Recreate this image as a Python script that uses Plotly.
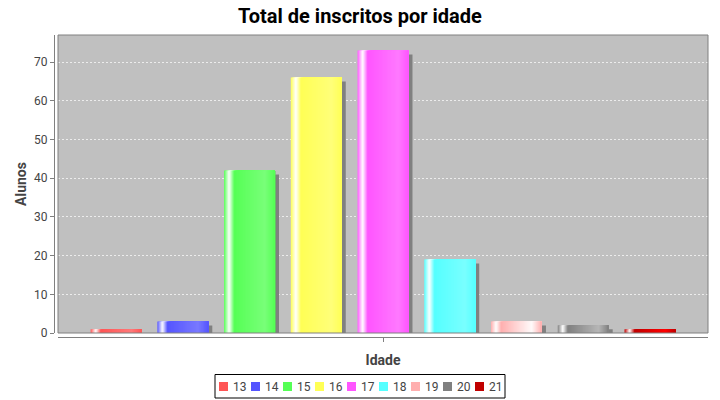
import plotly.graph_objects as go

# ---- data ----
ages = ["13", "14", "15", "16", "17", "18", "19", "20", "21"]
alunos = [1, 3, 42, 66, 73, 19, 3, 2, 1]
colors = ["#FF5555", "#5555FF", "#55FF55", "#FFFF55", "#FF55FF",
          "#55FFFF", "#FFAFAF", "#808080", "#C00000"]
y_ticks = [0, 10, 20, 30, 40, 50, 60, 70]

FONT = "Roboto"
BAR_W = 0.764
N_SLICES = 48
PX_X = 650 / 9.74      # px per x unit
PX_Y = 298 / 77.0      # px per y unit


def hex2rgb(h):
    h = h.lstrip("#")
    return tuple(int(h[i:i + 2], 16) for i in (0, 2, 4))


def brighter(c):
    r, g, b = c
    i = 3
    if r == 0 and g == 0 and b == 0:
        return (i, i, i)
    r = i if 0 < r < i else r
    g = i if 0 < g < i else g
    b = i if 0 < b < i else b
    return (min(int(r / 0.7), 255), min(int(g / 0.7), 255), min(int(b / 0.7), 255))


def mix(a, b, t):
    return tuple(a[k] + (b[k] - a[k]) * t for k in range(3))


def grad(c0, t):
    c1 = brighter(c0)
    white = (255, 255, 255)
    if t < 0.1:
        c = mix(c0, white, t / 0.1)
    elif t < 0.2:
        c = mix(white, c0, (t - 0.1) / 0.1)
    elif t < 0.8:
        c = mix(c0, c1, (t - 0.2) / 0.6)
    else:
        c = mix(c1, c0, (t - 0.8) / 0.2)
    return "rgb(%d,%d,%d)" % tuple(round(v) for v in c)


xs = list(range(len(ages)))
fig = go.Figure()

# shadows
fig.add_trace(go.Bar(
    x=xs, y=alunos, base=[-4 / PX_Y] * len(xs),
    offset=-BAR_W / 2 + 4 / PX_X, width=BAR_W,
    marker=dict(color="#808080", line=dict(width=0)),
    showlegend=False, hoverinfo="skip"))

# gradient bars built from slices
rgbs = [hex2rgb(c) for c in colors]
for j in range(N_SLICES):
    s = j / N_SLICES * BAR_W
    t = (j + 0.5) / N_SLICES
    fig.add_trace(go.Bar(
        x=xs, y=alunos,
        offset=-BAR_W / 2 + s, width=BAR_W - s,
        marker=dict(color=[grad(c, t) for c in rgbs], line=dict(width=0)),
        showlegend=False,
        customdata=ages,
        hovertemplate="Idade %{customdata}: %{y}<extra></extra>"))

# ---- layout geometry ----
L, R, T, B = 54, 12, 35, 63
PW, PH = 720 - L - R, 400 - T - B


def px_x(p):
    return (p - L) / PW


def px_y(p):
    return (400 - B - p) / PH


shapes = [
    dict(type="rect", xref="x domain", yref="y domain", x0=0, x1=1, y0=0, y1=1,
         line=dict(color="#808080", width=1), layer="above"),
]
annotations = []

# manual legend (JFreeChart style)
leg_x0, leg_x1, leg_y0, leg_y1 = 215, 505, 374.5, 398
shapes.append(dict(type="rect", xref="paper", yref="paper",
                   x0=px_x(leg_x0), x1=px_x(leg_x1), y0=px_y(leg_y1), y1=px_y(leg_y0),
                   line=dict(color="black", width=1), fillcolor="white"))
for i, (a, c) in enumerate(zip(ages, colors)):
    sx = 219 + 32 * i
    shapes.append(dict(type="rect", xref="paper", yref="paper",
                       x0=px_x(sx), x1=px_x(sx + 9), y0=px_y(391), y1=px_y(382),
                       line=dict(width=0), fillcolor=c))
    annotations.append(dict(text=a, xref="paper", yref="paper",
                            x=px_x(sx + 12), y=px_y(386.5), xanchor="left", yanchor="middle",
                            showarrow=False, font=dict(family=FONT, size=12, color="#444444")))

fig.update_layout(
    width=720, height=400,
    margin=dict(l=L, r=R, t=T, b=B, autoexpand=False),
    paper_bgcolor="white",
    plot_bgcolor="#C0C0C0",
    barmode="overlay",
    showlegend=False,
    title=dict(text="<b>Total de inscritos por idade</b>", x=0.5, xref="container",
               y=1 - 16 / 400, yref="container", xanchor="center", yanchor="middle",
               font=dict(family=FONT, size=20, color="black")),
    xaxis=dict(domain=[4 / PW, 1], range=[-0.87, 8.87], anchor="free", position=0,
               showgrid=False, zeroline=False,
               showline=True, linecolor="#808080", linewidth=1,
               tickvals=[4], ticktext=[""], ticks="outside", ticklen=4,
               tickcolor="#808080",
               title=dict(text="<b>Idade</b>", standoff=11,
                          font=dict(family=FONT, size=14, color="#444444"))),
    yaxis=dict(domain=[4 / PH, 1], range=[0, 77], anchor="free", position=0,
               tickvals=y_ticks, ticks="outside", ticklen=4, tickcolor="#808080",
               tickfont=dict(family=FONT, size=12, color="#444444"),
               showline=True, linecolor="#808080", linewidth=1,
               showgrid=True, gridcolor="rgba(255,255,255,0.7)", griddash="2px,2px",
               gridwidth=1, zeroline=False,
               title=dict(text="<b>Alunos</b>", standoff=3,
                          font=dict(family=FONT, size=14, color="#444444"))),
    shapes=shapes,
    annotations=annotations,
)

fig.write_html("out.html", config={"displayModeBar": False},
               post_script="document.body.style.margin='0';document.body.style.padding='0';")
